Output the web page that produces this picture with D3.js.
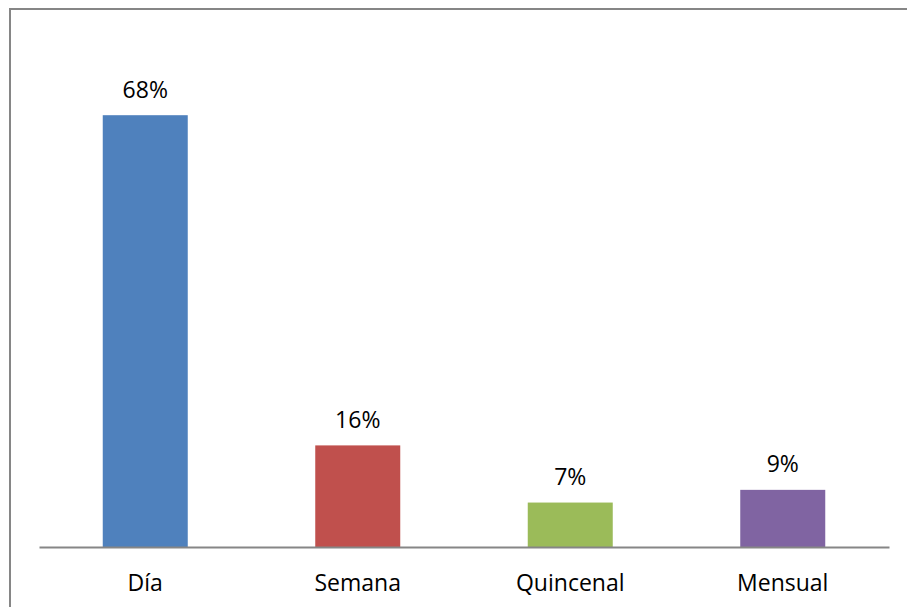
<!DOCTYPE html>
<html>
<head>
<meta charset="utf-8">
<script src="https://cdn.jsdelivr.net/npm/d3@7"></script>
<style>
    body { margin: 0; background: #fff; }
    svg { display: block; }
    text { font-family: "Open Sans", Lato, sans-serif; fill: #000; }
</style>
</head>
<body>
<svg width="907" height="607"></svg>
<script>
// data
var categories = ["Día", "Semana", "Quincenal", "Mensual"];
var values = [0.68, 0.16, 0.07, 0.09];
var colors = ["#4F81BD", "#C0504D", "#9BBB59", "#8064A2"];

var svg = d3.select("svg");

// outer chart border (runs off the right and bottom edge)
svg.append("rect")
    .attr("x", 10).attr("y", 9)
    .attr("width", 910).attr("height", 610)
    .attr("fill", "none")
    .attr("stroke", "#868686")
    .attr("stroke-width", 2);

var x = d3.scaleBand()
    .domain(categories)
    .range([39, 889])
    .paddingInner(0.6)
    .paddingOuter(0.3);

var y = d3.scaleLinear()
    .domain([0, 0.8])
    .range([547, 39]);

var fmt = d3.format(".0%");

svg.selectAll("rect.bar").data(values).enter().append("rect")
    .attr("class", "bar")
    .attr("x", function (d, i) { return x(categories[i]); })
    .attr("y", function (d) { return y(d); })
    .attr("width", x.bandwidth())
    .attr("height", function (d) { return y(0) - y(d); })
    .attr("fill", function (d, i) { return colors[i]; });

// value labels above bars
svg.selectAll("text.val").data(values).enter().append("text")
    .attr("class", "val")
    .attr("x", function (d, i) { return x(categories[i]) + x.bandwidth() / 2; })
    .attr("y", function (d) { return y(d) - 17.5; })
    .attr("text-anchor", "middle")
    .style("font-size", "23px")
    .text(function (d) { return fmt(d); });

// category axis
var xAxis = d3.axisBottom(x).tickSize(0).tickPadding(27.5);
var g = svg.append("g")
    .attr("transform", "translate(0," + y(0) + ")")
    .call(xAxis);
g.select(".domain").attr("stroke", "#868686").attr("stroke-width", 2);
g.selectAll(".tick text")
    .style("font-size", "23px")
    .attr("fill", "#000");
</script>
</body>
</html>
